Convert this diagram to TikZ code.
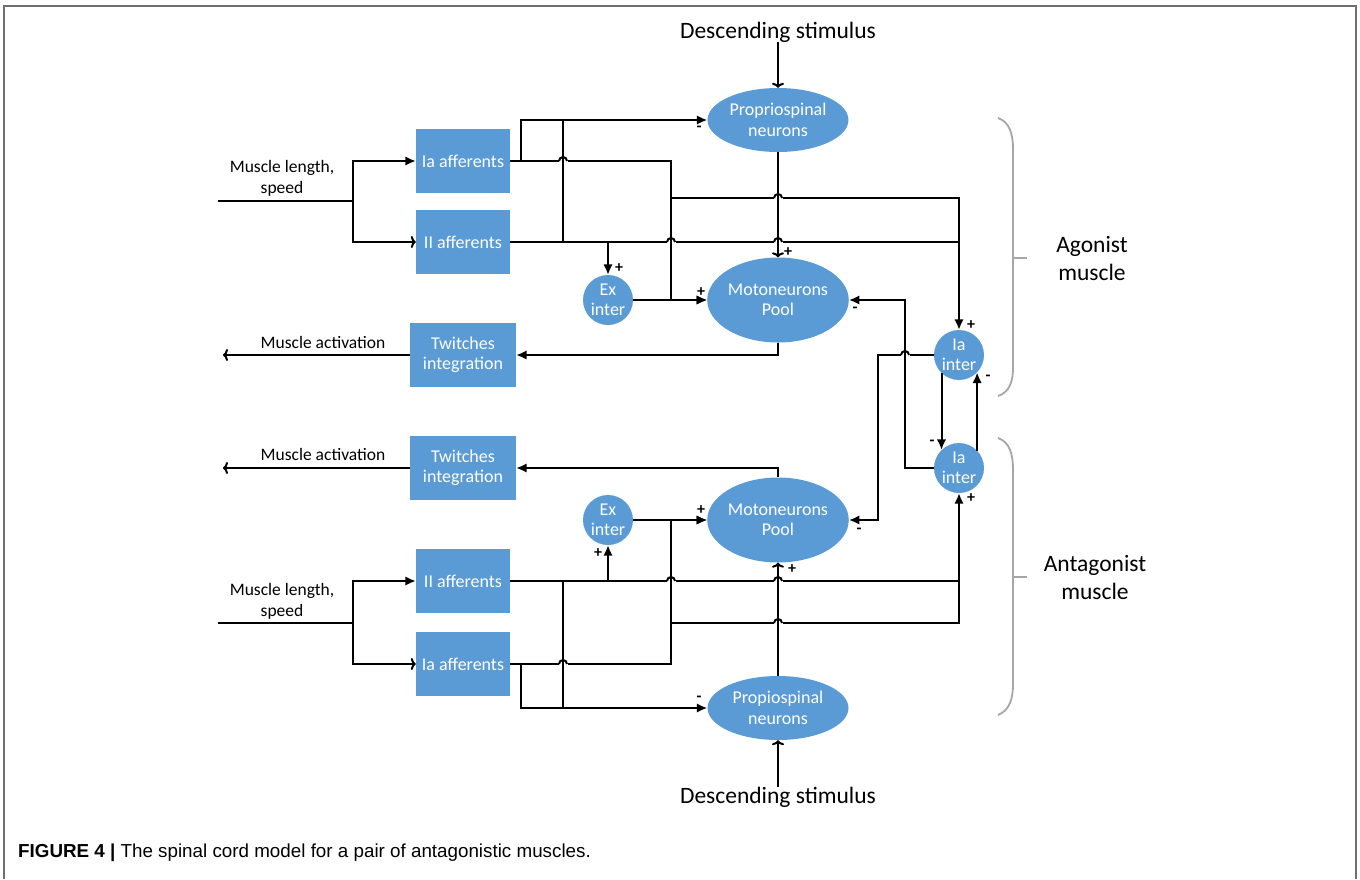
\documentclass[tikz,border=0pt]{standalone}
\usepackage{fontspec}
\setmainfont{Carlito}
\newfontfamily\capfont{Liberation Sans}
\usetikzlibrary{shapes.geometric, arrows.meta}
\definecolor{boxblue}{RGB}{91,155,213}
\definecolor{brackgray}{RGB}{166,166,166}
\definecolor{framegray}{RGB}{110,110,110}
\tikzset{
    wire/.style={line width=2pt},
    fwd/.style={wire, -{Latex[length=10.5pt, width=9.5pt]}},
    open/.style={wire, -{To[length=5pt, width=12pt]}},
    block/.style={fill=boxblue, text=white, inner sep=0pt, align=center, font=\fontsize{18}{20.5}\selectfont},
    box/.style={block, rectangle, minimum width=94pt, minimum height=64pt},
    oval/.style={block, ellipse, minimum width=141pt},
    cell/.style={block, circle, minimum size=50pt},
    sign/.style={font=\bfseries\fontsize{16}{16}\selectfont, inner sep=0pt},
    lbl/.style={font=\fontsize{17.5}{21}\selectfont, align=center, inner sep=0pt},
    big/.style={font=\fontsize{23.5}{28}\selectfont, align=center, inner sep=0pt},
    brace/.style={brackgray, line width=1.8pt}
}

\begin{document}
\begin{tikzpicture}[x=1pt, y=-1pt]
    \useasboundingbox (0,0) rectangle (1360,879);
    \draw[framegray, line width=2pt] (4,879) -- (4,6) -- (1356,6) -- (1356,879);

    \coordinate (xa) at (521,0);
    \coordinate (xb) at (563,0);
    \coordinate (xc) at (671,0);
    \coordinate (xf) at (905,0);
    \coordinate (xg) at (878,0);

    \node[big] (descA) at (778,32) {Descending stimulus};
    \node[oval, minimum height=64pt] (proA) at (778,120) {Propriospinal\\neurons};
    \node[oval, minimum height=85pt] (motA) at (778,300) {Motoneurons\\Pool};
    \node[box] (iaA) at (463,161) {Ia afferents};
    \node[box] (iiA) at (463,242) {II afferents};
    \node[box, minimum width=106pt] (twA) at (463,355) {Twitches\\integration};
    \node[cell] (exA) at (608,300) {Ex\\inter};
    \node[cell] (iaiA) at (959,355) {Ia\\inter};
    \node[lbl] (lenA) at (282,178) {Muscle length,\\speed};
    \node[lbl] (actA) at (323,342) {Muscle activation};
    \coordinate (inA) at (218,201);
    \coordinate (forkA) at (353,201);
    \coordinate (outA) at (223,355);
    \coordinate (busA) at (671,198);

    \node[big] (descB) at (778,797) {Descending stimulus};
    \node[oval, minimum height=64pt] (proB) at (778,708) {Propiospinal\\neurons};
    \node[oval, minimum height=85pt] (motB) at (778,520) {Motoneurons\\Pool};
    \node[box] (iiB) at (463,581) {II afferents};
    \node[box] (iaB) at (463,664) {Ia afferents};
    \node[box, minimum width=106pt] (twB) at (463,468) {Twitches\\integration};
    \node[cell] (exB) at (608,520) {Ex\\inter};
    \node[cell] (iaiB) at (959,468) {Ia\\inter};
    \node[lbl] (lenB) at (282,601) {Muscle length,\\speed};
    \node[lbl] (actB) at (323,454) {Muscle activation};
    \coordinate (inB) at (218,623);
    \coordinate (forkB) at (353,623);
    \coordinate (outB) at (223,468);
    \coordinate (busB) at (671,623);

    \draw[wire] (inA) -- (forkA);
    \draw[fwd] (forkA) |- (iaA.west);
    \draw[open] (forkA) |- (iiA.west);
    \draw[open] (descA) -- (proA);
    \draw[fwd] (iaA.east) -| (xa |- proA) -- (proA);
    \draw[wire] (xb |- iiA) -- (xb |- proA);
    \draw[fwd] (iaA.east) -| (xc |- motA) -- (motA);
    \draw[fwd] (iiA.east) -| (iaiA.north);
    \draw[wire] (busA) -| (iaiA |- iiA);
    \draw[fwd] (exA |- iiA) -- (exA.north);
    \draw[fwd] (exA.east) -- (motA.west);
    \draw[open] (proA) -- (motA);
    \draw[fwd] (motA.south) |- (twA.east);
    \draw[open] (twA.west) -- (outA);

    \draw[wire] (inB) -- (forkB);
    \draw[fwd] (forkB) |- (iiB.west);
    \draw[open] (forkB) |- (iaB.west);
    \draw[open] (descB) -- (proB);
    \draw[fwd] (iaB.east) -| (xa |- proB) -- (proB);
    \draw[wire] (xb |- iiB) -- (xb |- proB);
    \draw[fwd] (iaB.east) -| (xc |- motB) -- (motB);
    \draw[fwd] (iiB.east) -| (iaiB.south);
    \draw[wire] (busB) -| (iaiB |- iiB);
    \draw[fwd] (exB |- iiB) -- (exB.south);
    \draw[fwd] (exB.east) -- (motB.west);
    \draw[open] (proB) -- (motB);
    \draw[fwd] (motB.north) |- (twB.east);
    \draw[open] (twB.west) -- (outB);

    \draw[fwd] (iaiB.west) -| (xf |- motA) -- (motA);
    \draw[fwd] (iaiA.west) -| (xg |- motB) -- (motB);
    \draw[fwd] (iaiA.-134) -- (iaiB.134);
    \draw[fwd] (iaiB.44) -- (iaiA.-44);

    \foreach \hx/\hy in {563/161, 671/242, 778/198, 778/242, 905/355, 563/664, 671/581, 778/581, 778/623} {
        \fill[white] (\hx-4.5,\hy-1.5) rectangle (\hx+4.5,\hy+1.5);
        \draw[wire] (\hx,\hy-5) -- (\hx,\hy+5);
        \draw[wire] (\hx-4,\hy) arc (180:360:4);
    }

    \node[sign] (sA1) at (699,129) {-};
    \node[sign] (sA2) at (788,252) {+};
    \node[sign] (sA3) at (701,292) {+};
    \node[sign] (sA4) at (855,310) {-};
    \node[sign] (sA5) at (619,268) {+};
    \node[sign] (sA6) at (971,325) {+};
    \node[sign] (sA7) at (988,378) {-};
    \node[sign] (sB1) at (699,699) {-};
    \node[sign] (sB2) at (792,569) {+};
    \node[sign] (sB3) at (701,510) {+};
    \node[sign] (sB4) at (859,531) {-};
    \node[sign] (sB5) at (598,553) {+};
    \node[sign] (sB6) at (971,498) {+};
    \node[sign] (sB7) at (932,443) {-};

    \draw[brace] (998,118) .. controls (1010,122) and (1013,135) .. (1013,149) -- (1013,367) .. controls (1013,381) and (1010,392) .. (998,396);
    \draw[brace] (1013,258) -- (1027,258);
    \draw[brace] (998,438) .. controls (1010,442) and (1013,455) .. (1013,470) -- (1013,684) .. controls (1013,698) and (1010,710) .. (998,715);
    \draw[brace] (1013,577) -- (1027,577);
    \node[big] (agon) at (1092,258) {Agonist\\muscle};
    \node[big] (antag) at (1095,577) {Antagonist\\muscle};

    \node[anchor=base west, inner sep=0pt, font=\capfont\fontsize{18.8}{18.8}\selectfont] (cap) at (18,857) {\textbf{FIGURE 4 |} The spinal cord model for a pair of antagonistic muscles.};
\end{tikzpicture}
\end{document}
